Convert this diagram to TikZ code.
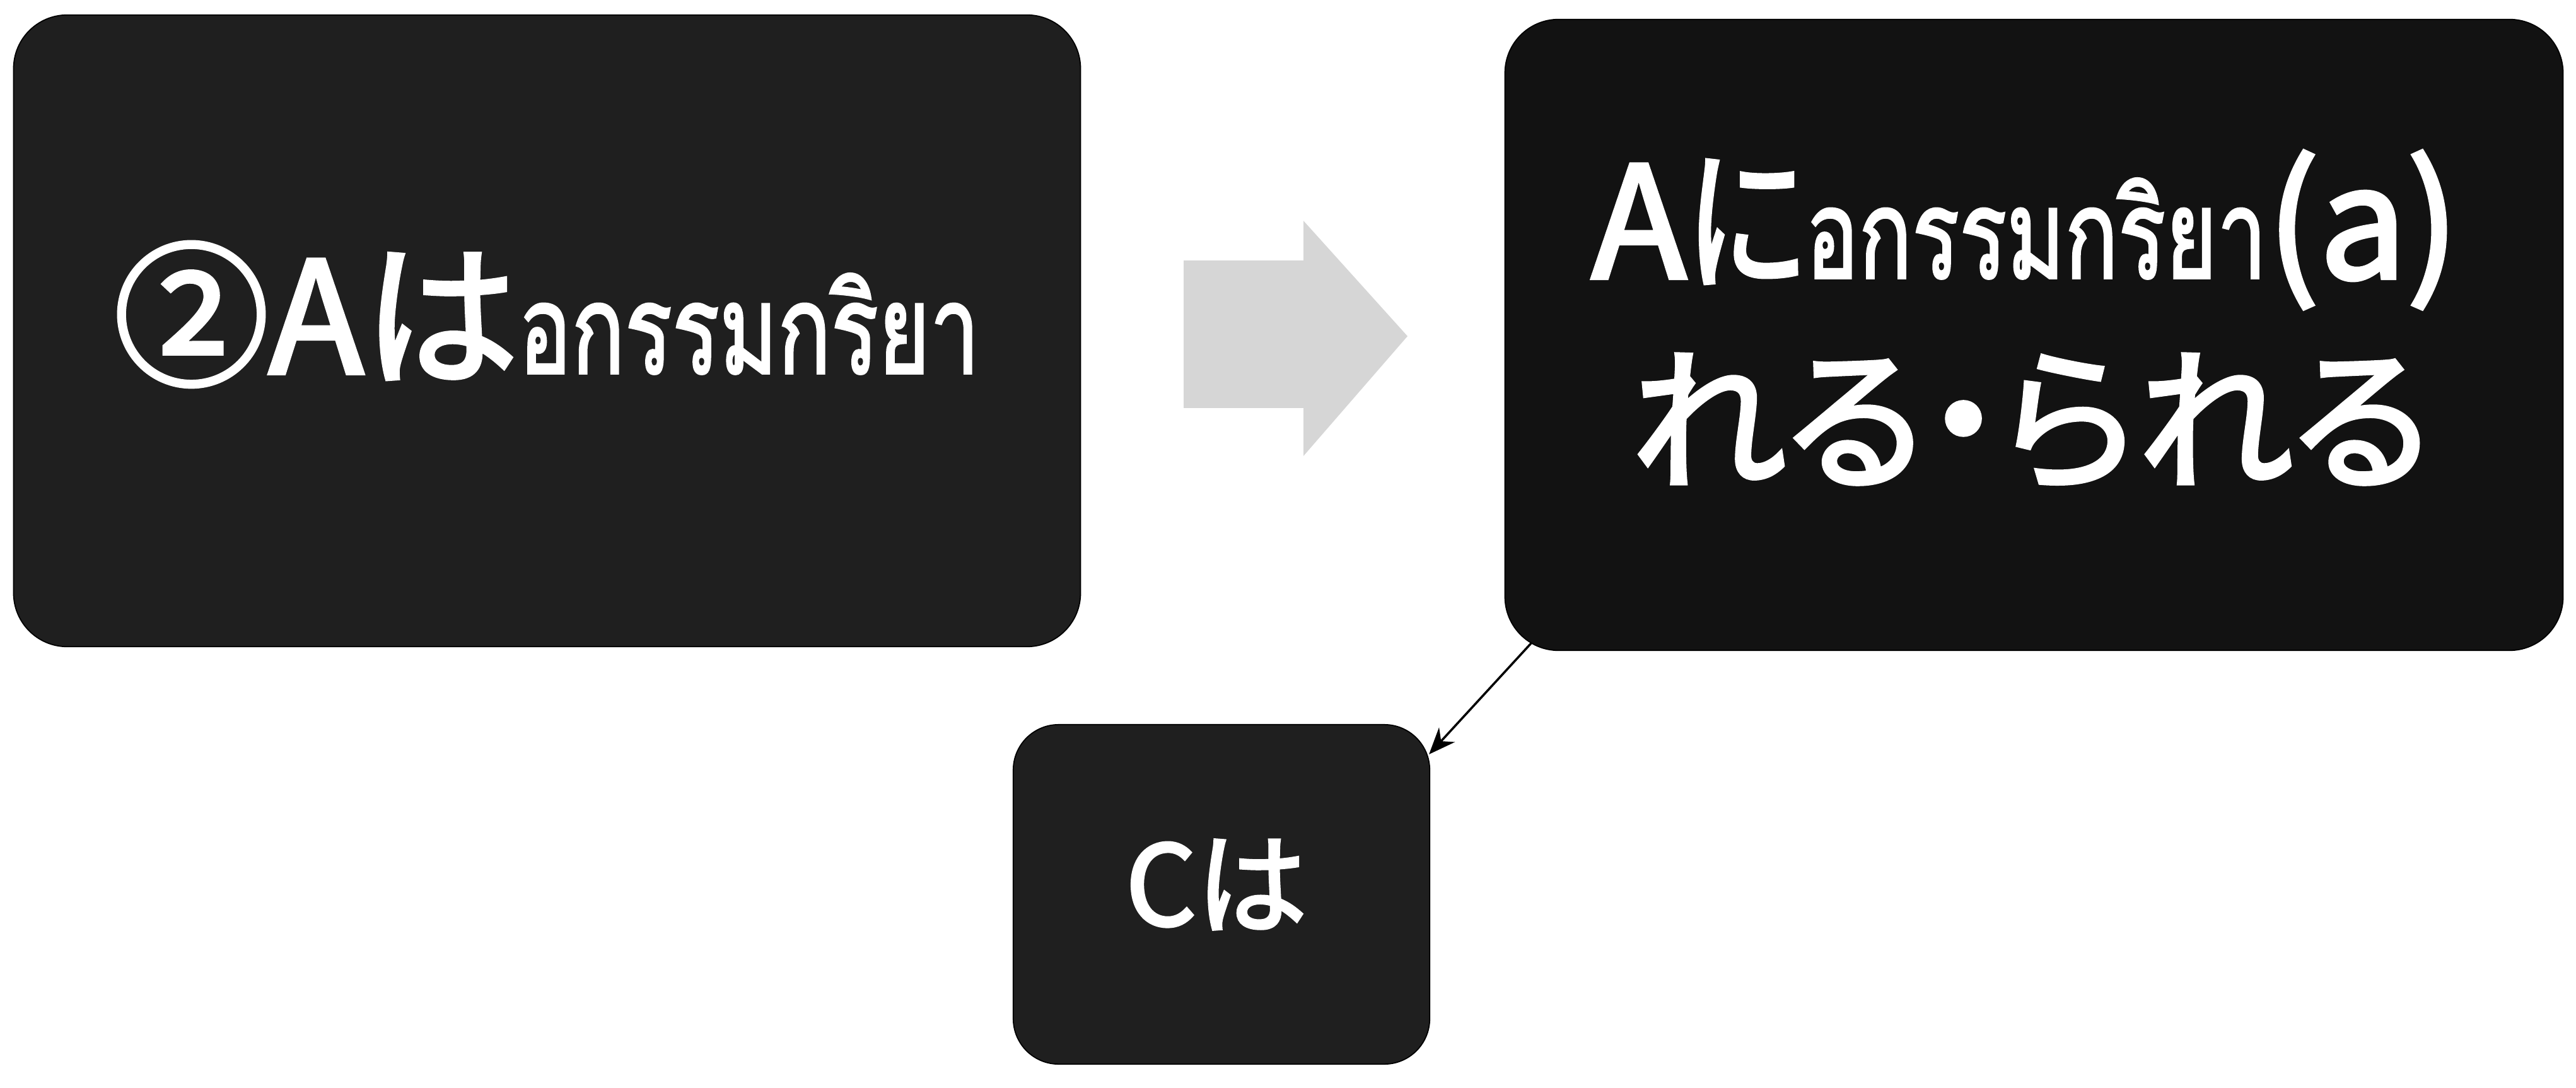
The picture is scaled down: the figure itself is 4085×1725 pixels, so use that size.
\documentclass[tikz,border=0pt]{standalone}
\usepackage{fontspec}
\usepackage{graphicx}
\usetikzlibrary{calc,arrows.meta}
\newfontfamily\jpfont[RawFeature=+palt, RawFeature={embolden=2.6}]{Noto Sans CJK JP}
\newfontfamily\thaifont[Script=Thai, RawFeature={embolden=2.0}]{Loma}
\tikzset{
  darkbox/.style={draw=black, line width=0.5pt, fill=black!88, rounded corners=0.85cm, inner sep=0pt},
  boxtext/.style={text=white, inner sep=0pt, anchor=base},
  grayarrow/.style={fill=black!16, draw=none},
  link/.style={draw=black, line width=1pt, -{Stealth[length=0.42cm, width=0.34cm]}}
}
\begin{document}
\begin{tikzpicture}[x=0.01cm, y=-0.01cm]
\useasboundingbox (0,0) rectangle (4085,1725);
% boxes
\node[darkbox, minimum width=16.91cm, minimum height=10.01cm] (b1) at (867.5,524.5) {};
\node[darkbox, fill=black!93, minimum width=16.77cm, minimum height=10.0cm] (b2) at (3225.5,531) {};
\node[darkbox, rounded corners=0.72cm, minimum width=6.60cm, minimum height=5.38cm] (b3) at (1937,1418) {};
% texts
\node[boxtext] (t1) at (867,592) {\jpfont\fontsize{70pt}{80pt}\selectfont ②Aは\thaifont\fontsize{56pt}{60pt}\selectfont\scalebox{0.71}[1]{อกรรมกริยา}};
\node[boxtext] (t2) at (3212,441) {\jpfont\fontsize{70pt}{80pt}\selectfont A\scalebox{0.8}[1]{に}\thaifont\fontsize{56pt}{60pt}\selectfont\scalebox{0.71}[1]{อกรรมกริยา}\jpfont\fontsize{70pt}{80pt}\selectfont(a)};
\node[boxtext] (t3) at (3220,757) {\jpfont\fontsize{70pt}{80pt}\selectfont れる・られる};
\node[boxtext] (t4) at (1929,1467) {\jpfont\fontsize{50pt}{60pt}\selectfont Cは};
% gray block arrow
\path[grayarrow] (1877,413) -- (2067,413) -- (2067,350) -- (2232,533) -- (2067,723) -- (2067,647) -- (1877,647) -- cycle;
% connector
\coordinate (s) at ($(b2.south west)+(43,-13)$);
\coordinate (e) at ($(b3.north east)+(-2,48)$);
\draw[link] (s) -- (e);
\end{tikzpicture}
\end{document}
